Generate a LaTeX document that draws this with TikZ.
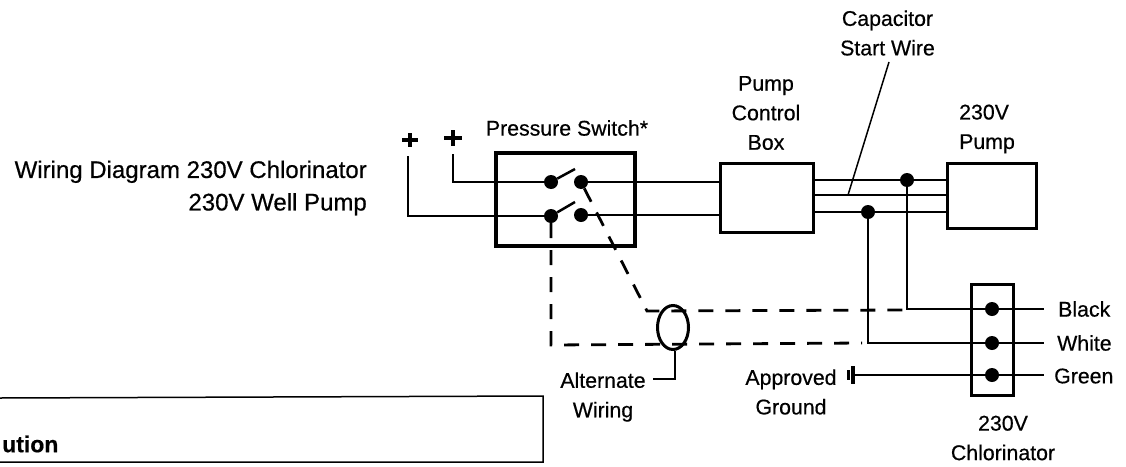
\documentclass[tikz,border=0pt]{standalone}
\usepackage{fontspec}
\setmainfont[FakeBold=0.5]{Liberation Sans}
\usetikzlibrary{calc,shapes.geometric}
\tikzset{
  lbl/.style={inner sep=0pt,align=center,font=\fontsize{21.3}{29.5}\selectfont},
  boxa/.style={draw,line width=3pt,minimum width=0pt,inner sep=0pt},
  wire/.style={line width=2.5pt},
  thinw/.style={line width=2pt},
  dashw/.style={line width=2.8pt,dash pattern=on 15pt off 12pt},
  dot/.style={circle,fill=black,inner sep=0pt,minimum size=14pt},
  dotb/.style={circle,fill=black,inner sep=0pt,minimum size=14pt},
  pl/.style={line width=4pt}
}
\begin{document}
\begin{tikzpicture}[x=1pt,y=-1pt]
\useasboundingbox (0,0) rectangle (1126,466);
% boxes
\node[boxa,line width=4pt,minimum width=139pt,minimum height=93pt] (ps) at (565.5,199.5) {};
\node[boxa,minimum width=93pt,minimum height=69pt] (cb) at (766.5,197.5) {};
\node[boxa,minimum width=89pt,minimum height=65pt] (pump) at (991.5,195.5) {};
\node[boxa,minimum width=42pt,minimum height=111pt] (chl) at (992.5,339.5) {};
% contacts
\node[dot] (c1) at (551,182) {};
\node[dot] (c2) at (551,216) {};
\node[dot] (d1) at (581,182) {};
\node[dot] (d2) at (581,215) {};
\coordinate (b1) at (575,169);
\coordinate (b2) at (575,202);
\draw[wire] (c1) -- (b1);
\draw[wire] (c2) -- (b2);
% plus signs
\coordinate (p1) at (410,140);
\coordinate (p2) at (453,138);
\draw[pl] ($(p1)+(-8,0)$) -- ($(p1)+(8,0)$) ($(p1)+(0,-7)$) -- ($(p1)+(0,7)$);
\draw[pl] ($(p2)+(-9,0)$) -- ($(p2)+(9,0)$) ($(p2)+(0,-8)$) -- ($(p2)+(0,8)$);
% supply wires
\coordinate (s1) at (453,154);
\coordinate (s2) at (408,156);
\draw[wire] (s1) |- (c1);
\draw[wire] (s2) |- (c2);
\draw[wire] (d1) -- (cb.west |- d1);
\draw[wire] (d2) -- (cb.west |- d2);
% control box to pump
\node[dotb] (j1) at (907,180) {};
\node[dotb] (j2) at (868,212) {};
\coordinate (m1) at (813,195);
\draw[wire] (cb.east |- j1) -- (pump.west |- j1);
\draw[wire] (m1) -- (pump.west |- m1);
\draw[wire] (cb.east |- j2) -- (pump.west |- j2);
% chlorinator terminals
\node[dotb] (t1) at (992,309) {};
\node[dotb] (t2) at (992,343) {};
\node[dotb] (t3) at (992,375) {};
\coordinate (e1) at (1044,309);
\coordinate (e2) at (1044,343);
\coordinate (e3) at (1044,375);
\draw[wire] (j1) |- (t1);
\draw[wire] (j2) |- (t2);
\draw[thinw] (t1) -- (e1);
\draw[thinw] (t2) -- (e2);
\draw[thinw] (t3) -- (e3);
% ground
\coordinate (g) at (853,375);
\draw[wire] (t3) -- (g);
\draw[line width=3.2pt] (853,366) -- (853,384);
\draw[line width=3pt] (848,370) -- (848,380);
% alternate wiring
\coordinate (k1) at (647,311);
\coordinate (k2) at (551,345);
\coordinate (k3) at (905,310);
\coordinate (k4) at (862,343);
\draw[dashw] (d1) -- (k1) -- (k3);
\draw[dashw] (c2) -- (k2) -- (k4);
\node[draw,ellipse,line width=3pt,minimum width=31pt,minimum height=44pt,inner sep=0pt] (el) at (673,327.5) {};
\coordinate (l1) at (675,379);
\coordinate (l2) at (653,379);
\draw[wire] (el.south) ++(2,0) -- (l1) -- (l2);
% capacitor leader
\coordinate (cp1) at (889,62);
\coordinate (cp2) at (848,195);
\draw[line width=1.5pt] (cp1) -- (cp2);
% caution box
\coordinate (ctl) at (0,398);
\coordinate (ctr) at (543,396);
\coordinate (cbr) at (543,462);
\coordinate (cbl) at (0,462);
\draw[line width=1.5pt] (ctl) -- (ctr) -- (cbr) -- (cbl);
% text
\node[inner sep=0pt,anchor=east,align=right,font=\fontsize{24}{32.5}\selectfont] (t-a) at (367,188) {Wiring Diagram 230V Chlorinator\\230V Well Pump};
\node[lbl] (t-b) at (567,128) {Pressure Switch*};
\node[lbl] (t-c) at (766,113) {Pump\\Control\\Box};
\node[lbl] (t-d) at (887.5,33) {Capacitor\\Start Wire};
\node[lbl,anchor=west,align=left] (t-e) at (959,129) {230V\\Pump};
\node[lbl,anchor=west] (t-f) at (1058,309) {Black};
\node[lbl,anchor=west] (t-g) at (1057,343) {White};
\node[lbl,anchor=west] (t-h) at (1054,376) {Green};
\node[lbl] (t-i) at (1003,438) {230V\\Chlorinator};
\node[lbl] (t-j) at (791,392) {Approved\\Ground};
\node[lbl] (t-k) at (603,397) {Alternate\\Wiring};
\node[inner sep=0pt,anchor=west,font=\fontsize{23}{26}\selectfont\bfseries] (t-l) at (2,444) {ution};
\end{tikzpicture}
\end{document}
